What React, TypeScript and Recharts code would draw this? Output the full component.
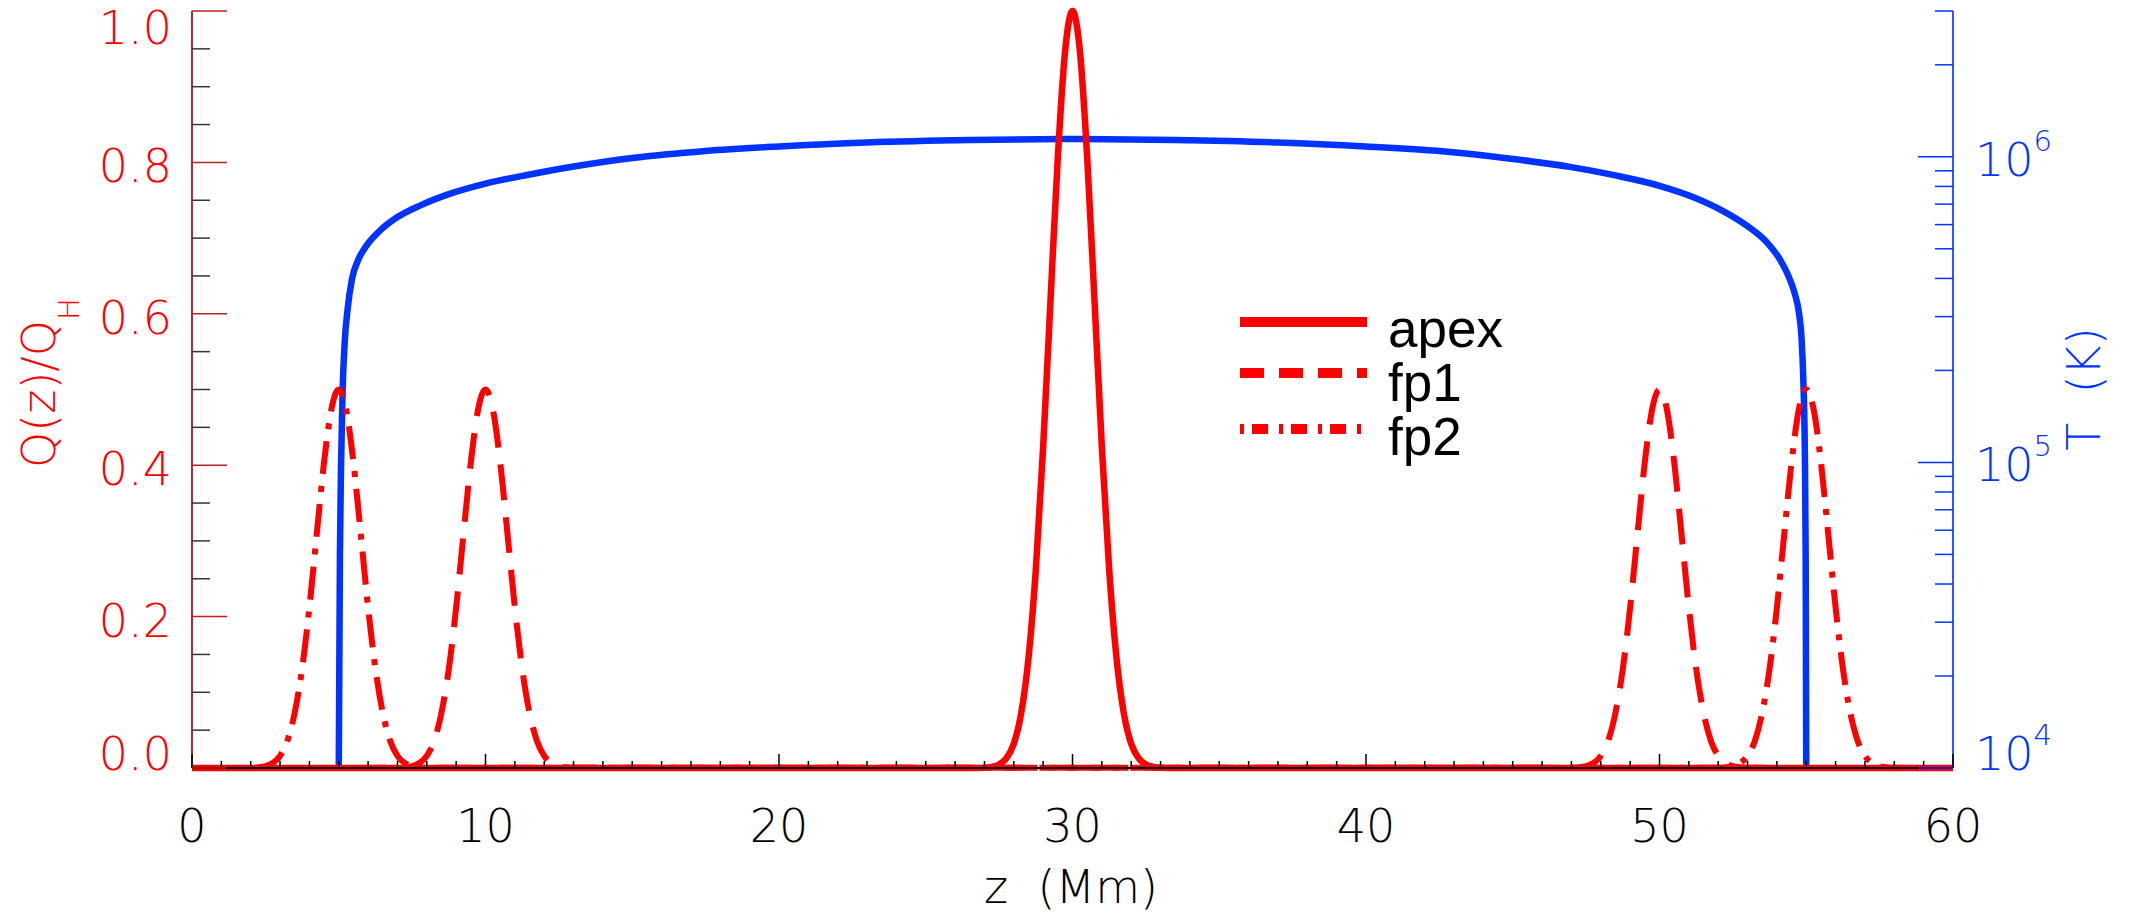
import { Legend, Line, LineChart, XAxis, YAxis } from 'recharts'

const RED = '#ff0000'
const BLUE = '#0033ff'
const AXIS_FONT = '"DejaVu Sans", sans-serif'
const LEGEND_FONT = '"Liberation Sans", Arial, sans-serif'

// heating profiles Q(z)/Q_H
const apexZ = [0, 26.5, 26.75, 27, 27.25, 27.5, 27.75, 28, 28.25, 28.5, 28.75, 29, 29.25, 29.5, 29.75, 30, 30.25, 30.5, 30.75, 31, 31.25, 31.5, 31.75, 32, 32.25, 32.5, 32.75, 33, 33.25, 33.5, 60]
const apexQ = [0, 0, 0.0001, 0.0004, 0.0015, 0.0047, 0.013, 0.032, 0.072, 0.145, 0.262, 0.424, 0.617, 0.807, 0.948, 1, 0.948, 0.807, 0.617, 0.424, 0.262, 0.145, 0.072, 0.032, 0.013, 0.0047, 0.0015, 0.0004, 0.0001, 0, 0]

const fp1Z = [0, 7, 7.25, 7.5, 7.75, 8, 8.25, 8.5, 8.75, 9, 9.25, 9.5, 9.75, 10, 10.25, 10.5, 10.75, 11, 11.25, 11.5, 11.75, 12, 12.25, 12.5, 12.75, 13,
  47, 47.25, 47.5, 47.75, 48, 48.25, 48.5, 48.75, 49, 49.25, 49.5, 49.75, 50, 50.25, 50.5, 50.75, 51, 51.25, 51.5, 51.75, 52, 52.25, 52.5, 52.75, 53, 60]
const fp1Q = [0, 0.0002, 0.0008, 0.0024, 0.0065, 0.016, 0.036, 0.073, 0.131, 0.212, 0.309, 0.404, 0.474, 0.5, 0.474, 0.404, 0.309, 0.212, 0.131, 0.073, 0.036, 0.016, 0.0065, 0.0024, 0.0008, 0.0002,
  0.0002, 0.0008, 0.0024, 0.0065, 0.016, 0.036, 0.073, 0.131, 0.212, 0.309, 0.404, 0.474, 0.5, 0.474, 0.404, 0.309, 0.212, 0.131, 0.073, 0.036, 0.016, 0.0065, 0.0024, 0.0008, 0.0002, 0]

const fp2Z = [0, 2, 2.25, 2.5, 2.75, 3, 3.25, 3.5, 3.75, 4, 4.25, 4.5, 4.75, 5, 5.25, 5.5, 5.75, 6, 6.25, 6.5, 6.75, 7, 7.25, 7.5, 7.75, 8,
  52, 52.25, 52.5, 52.75, 53, 53.25, 53.5, 53.75, 54, 54.25, 54.5, 54.75, 55, 55.25, 55.5, 55.75, 56, 56.25, 56.5, 56.75, 57, 57.25, 57.5, 57.75, 58, 60]
const fp2Q = [0, 0.0002, 0.0008, 0.0024, 0.0065, 0.016, 0.036, 0.073, 0.131, 0.212, 0.309, 0.404, 0.474, 0.5, 0.474, 0.404, 0.309, 0.212, 0.131, 0.073, 0.036, 0.016, 0.0065, 0.0024, 0.0008, 0.0002,
  0.0002, 0.0008, 0.0024, 0.0065, 0.016, 0.036, 0.073, 0.131, 0.212, 0.309, 0.404, 0.474, 0.5, 0.474, 0.404, 0.309, 0.212, 0.131, 0.073, 0.036, 0.016, 0.0065, 0.0024, 0.0008, 0.0002, 0]

// temperature profile T(z) in K
const tempZ = [5.0, 5.04, 5.08, 5.13, 5.2, 5.3, 5.45, 5.65, 5.95, 6.4, 7.0, 7.8, 8.7, 10, 11.5, 13, 15, 17.5, 20, 23, 26.5, 30,
  33.5, 37, 40, 42.5, 45, 47, 48.5, 50, 51.2, 52.2, 53, 53.65, 54.1, 54.4, 54.6, 54.75, 54.84, 54.9, 54.95, 54.98, 55.0]
const tempK = [1.0e4, 5.0e4, 1.0e5, 1.7e5, 2.45e5, 3.16e5, 3.98e5, 4.57e5, 5.13e5, 5.73e5, 6.35e5, 6.95e5, 7.52e5, 8.17e5, 8.75e5, 9.29e5, 9.91e5, 1.045e6, 1.081e6, 1.114e6, 1.135e6, 1.143e6,
  1.135e6, 1.114e6, 1.081e6, 1.045e6, 9.84e5, 9.25e5, 8.69e5, 8.04e5, 7.35e5, 6.62e5, 5.93e5, 5.26e5, 4.62e5, 4.06e5, 3.59e5, 3.09e5, 2.55e5, 1.86e5, 1.12e5, 5.0e4, 1.0e4]

const zTicks = Array.from({ length: 61 }, (_, i) => i)
const qTicks = [0, 0.05, 0.1, 0.15, 0.2, 0.25, 0.3, 0.35, 0.4, 0.45, 0.5, 0.55, 0.6, 0.65, 0.7, 0.75, 0.8, 0.85, 0.9, 0.95, 1]
const tTicks = [1e4, 2e4, 3e4, 4e4, 5e4, 6e4, 7e4, 8e4, 9e4, 1e5, 2e5, 3e5, 4e5, 5e5, 6e5, 7e5, 8e5, 9e5, 1e6, 2e6, 3e6]

const rows = (zs: number[], vs: number[], key: string) => zs.map((z, i) => ({ z, [key]: vs[i] }))
const apexRows = rows(apexZ, apexQ, 'q')
const fp1Rows = rows(fp1Z, fp1Q, 'q')
const fp2Rows = rows(fp2Z, fp2Q, 'q')
const tempRows = rows(tempZ, tempK, 't')

const axisText = { fontFamily: AXIS_FONT, fontSize: 46, fontWeight: 200 }

function BottomTick({ x, y, payload }: any) {
  const v = payload.value
  const major = v % 10 === 0
  return (
    <g>
      <line x1={x} x2={x} y1={y} y2={y - (major ? 14 : 7)} stroke="#000" strokeWidth={1.5} />
      {major && (
        <text x={x} y={y + 74} textAnchor="middle" fill="#000" {...axisText}>
          {v}
        </text>
      )}
    </g>
  )
}

function TopTick({ x, y, payload }: any) {
  const major = payload.value % 10 === 0
  return <line x1={x} x2={x} y1={y} y2={y + (major ? 14 : 7)} stroke="#333" strokeWidth={1.5} />
}

function LeftTick({ x, y, payload }: any) {
  const v = payload.value
  const major = Math.round(v * 100) % 20 === 0
  let base = y + 20
  if (v === 1) base = y + 33
  if (v === 0) base = y + 2
  return (
    <g>
      <line x1={x} x2={x + (major ? 35 : 18)} y1={y} y2={y} stroke={major ? '#c02020' : '#333'} strokeWidth={1.5} />
      {major && (
        <text x={x - 20} y={base} textAnchor="end" fill={RED} {...axisText}>
          {v.toFixed(1)}
        </text>
      )}
    </g>
  )
}

function RightTick({ x, y, payload }: any) {
  const v = payload.value
  const exp = Math.round(Math.log10(v))
  const major = Math.abs(Math.log10(v) - exp) < 1e-6
  const base = v === 1e4 ? y + 2 : y + 19
  return (
    <g>
      <line x1={x} x2={x - (major ? 35 : 18)} y1={y} y2={y} stroke={BLUE} strokeWidth={1.5} />
      {major && (
        <text x={x + 22} y={base} fill={BLUE} {...axisText}>
          10
          <tspan fontSize={29} dy={-25}>{exp}</tspan>
        </text>
      )}
    </g>
  )
}

function BottomTitle() {
  return (
    <text x={1071} y={903} textAnchor="middle" fill="#000" style={{ whiteSpace: 'pre' }} {...axisText}>
      {'z  (Mm)'}
    </text>
  )
}

function LeftTitle() {
  return (
    <text transform="translate(55 383) rotate(-90)" textAnchor="middle" fill={RED} {...axisText}>
      Q(z)/Q
      <tspan fontSize={29} dy={24}>H</tspan>
    </text>
  )
}

function RightTitle() {
  return (
    <text transform="translate(2100 389) rotate(-90)" textAnchor="middle" fill={BLUE} style={{ whiteSpace: 'pre' }} {...axisText}>
      {'T  (K)'}
    </text>
  )
}

const legendItems = [
  { name: 'apex', dash: undefined },
  { name: 'fp1', dash: '24 15' },
  { name: 'fp2', dash: '4 8 16 11' },
]

function LegendBox() {
  return (
    <svg width={420} height={190}>
      {legendItems.map((item, i) => {
        const lineY = [32, 83, 139][i]
        const textY = [57, 111, 165][i]
        return (
          <g key={item.name}>
            <line x1={0} x2={127} y1={lineY} y2={lineY} stroke={RED} strokeWidth={10} strokeDasharray={item.dash} />
            <text x={148} y={textY} fill="#000" fontFamily={LEGEND_FONT} fontSize={53}>
              {item.name}
            </text>
          </g>
        )
      })}
    </svg>
  )
}

export default function App() {
  return (
    <div style={{ position: 'absolute', left: 0, top: 0 }}>
      <LineChart width={2136} height={917} margin={{ top: 11, right: 0, bottom: 0, left: 0 }}>
        <XAxis
          xAxisId="top"
          orientation="top"
          type="number"
          dataKey="z"
          domain={[0, 60]}
          ticks={zTicks}
          interval={0}
          height={0}
          tickSize={0}
          tickMargin={0}
          tickLine={false}
          tick={<TopTick />}
          axisLine={{ stroke: '#333', strokeWidth: 2 }}
        />
        <XAxis
          type="number"
          dataKey="z"
          domain={[0, 60]}
          ticks={zTicks}
          interval={0}
          height={149}
          tickSize={0}
          tickMargin={0}
          tickLine={false}
          tick={<BottomTick />}
          axisLine={{ stroke: '#000', strokeWidth: 2 }}
          label={<BottomTitle />}
        />
        <YAxis
          yAxisId="left"
          type="number"
          domain={[0, 1]}
          ticks={qTicks}
          interval={0}
          width={192}
          tickSize={0}
          tickMargin={0}
          tickLine={false}
          tick={<LeftTick />}
          axisLine={{ stroke: '#b03030', strokeWidth: 2 }}
          label={<LeftTitle />}
        />
        <YAxis
          yAxisId="right"
          orientation="right"
          type="number"
          scale="log"
          domain={[1e4, 3e6]}
          allowDataOverflow
          ticks={tTicks}
          interval={0}
          width={183}
          tickSize={0}
          tickMargin={0}
          tickLine={false}
          tick={<RightTick />}
          axisLine={{ stroke: '#3355ff', strokeWidth: 2 }}
          label={<RightTitle />}
        />
        <Line data={tempRows} yAxisId="right" dataKey="t" type="monotone" stroke={BLUE} strokeWidth={6.5} dot={false} isAnimationActive={false} />
        <Line data={fp2Rows} yAxisId="left" dataKey="q" type="monotone" stroke={RED} strokeWidth={6} strokeDasharray="33 12 6 12" dot={false} isAnimationActive={false} />
        <Line data={fp1Rows} yAxisId="left" dataKey="q" type="monotone" stroke={RED} strokeWidth={6} strokeDasharray="36 17" dot={false} isAnimationActive={false} />
        <Line data={apexRows} yAxisId="left" dataKey="q" type="monotone" stroke={RED} strokeWidth={6.5} dot={false} isAnimationActive={false} />
        <Legend
          layout="horizontal"
          verticalAlign="middle"
          align="center"
          content={<LegendBox />}
          wrapperStyle={{ left: 1240, top: 290, width: 420, height: 190 }}
        />
      </LineChart>
    </div>
  )
}
